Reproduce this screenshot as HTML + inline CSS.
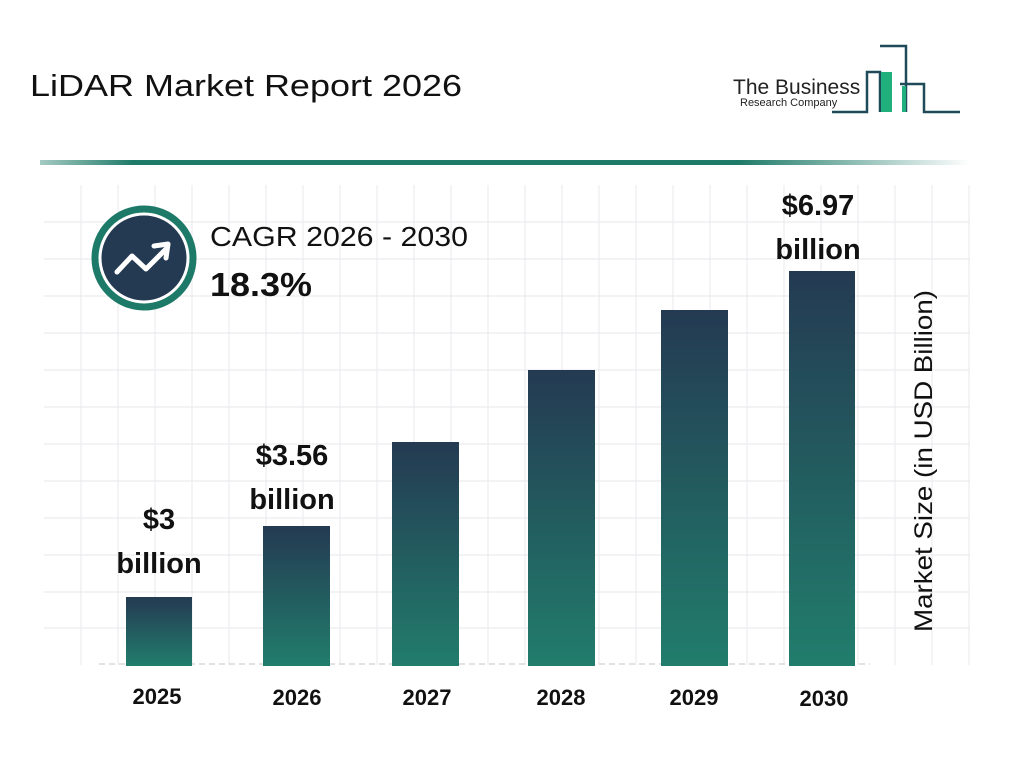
<!DOCTYPE html>
<html><head><meta charset="utf-8"><style>
body{margin:0;width:1024px;height:768px;background:#fff;overflow:hidden;font-family:"Liberation Sans",Arial,sans-serif}
</style></head><body>
<svg width="1024" height="768" viewBox="0 0 1024 768" xmlns="http://www.w3.org/2000/svg">
<defs>
<linearGradient id="bg" x1="0" y1="0" x2="0" y2="1"><stop offset="0" stop-color="#243a52"/><stop offset="1" stop-color="#217d6c"/></linearGradient>
<linearGradient id="hl" x1="0" y1="0" x2="1" y2="0"><stop offset="0" stop-color="#1e7a68" stop-opacity="0.4"/><stop offset="0.1" stop-color="#1e7a68"/><stop offset="0.75" stop-color="#1e7a68"/><stop offset="1" stop-color="#1e7a68" stop-opacity="0"/></linearGradient>
</defs>
<text x="30" y="96" font-size="31" fill="#111" textLength="432" lengthAdjust="spacingAndGlyphs">LiDAR Market Report 2026</text>
<g fill="none" stroke="#1e4a5a" stroke-width="2.5">
<polyline points="832,112 867,112 867,72 880,72 880,112"/>
<polyline points="880,46 906,46 906,112"/>
<polyline points="900,84 924,84 924,112 960,112"/>
</g>
<rect x="881" y="72" width="11" height="40" fill="#20b07e"/>
<rect x="902" y="86" width="4" height="26" fill="#20b07e"/>
<text x="733" y="94" font-size="21" fill="#222">The Business</text>
<text x="740" y="106" font-size="11" fill="#222">Research Company</text>
<rect x="40" y="160" width="930" height="5" fill="url(#hl)"/>
<g stroke="#ececef" stroke-width="1.2">
<line x1="44" y1="222" x2="970" y2="222"/><line x1="44" y1="259" x2="970" y2="259"/><line x1="44" y1="296" x2="970" y2="296"/><line x1="44" y1="333" x2="970" y2="333"/><line x1="44" y1="370" x2="970" y2="370"/><line x1="44" y1="407" x2="970" y2="407"/><line x1="44" y1="444" x2="970" y2="444"/><line x1="44" y1="481" x2="970" y2="481"/><line x1="44" y1="518" x2="970" y2="518"/><line x1="44" y1="555" x2="970" y2="555"/><line x1="44" y1="592" x2="970" y2="592"/><line x1="44" y1="628" x2="970" y2="628"/>
<line x1="81" y1="185" x2="81" y2="665"/><line x1="118" y1="185" x2="118" y2="665"/><line x1="155" y1="185" x2="155" y2="665"/><line x1="192" y1="185" x2="192" y2="665"/><line x1="229" y1="185" x2="229" y2="665"/><line x1="266" y1="185" x2="266" y2="665"/><line x1="303" y1="185" x2="303" y2="665"/><line x1="340" y1="185" x2="340" y2="665"/><line x1="377" y1="185" x2="377" y2="665"/><line x1="414" y1="185" x2="414" y2="665"/><line x1="451" y1="185" x2="451" y2="665"/><line x1="488" y1="185" x2="488" y2="665"/><line x1="525" y1="185" x2="525" y2="665"/><line x1="562" y1="185" x2="562" y2="665"/><line x1="599" y1="185" x2="599" y2="665"/><line x1="636" y1="185" x2="636" y2="665"/><line x1="673" y1="185" x2="673" y2="665"/><line x1="710" y1="185" x2="710" y2="665"/><line x1="747" y1="185" x2="747" y2="665"/><line x1="784" y1="185" x2="784" y2="665"/><line x1="821" y1="185" x2="821" y2="665"/><line x1="858" y1="185" x2="858" y2="665"/><line x1="895" y1="185" x2="895" y2="665"/><line x1="932" y1="185" x2="932" y2="665"/><line x1="969" y1="185" x2="969" y2="665"/>
</g>
<line x1="99" y1="664" x2="870" y2="664" stroke="#d8d8dc" stroke-width="1.5" stroke-dasharray="6,4"/>
<rect x="126" y="597" width="66" height="69" fill="url(#bg)"/>
<rect x="263" y="526" width="67" height="140" fill="url(#bg)"/>
<rect x="392" y="442" width="67" height="224" fill="url(#bg)"/>
<rect x="528" y="370" width="67" height="296" fill="url(#bg)"/>
<rect x="661" y="310" width="67" height="356" fill="url(#bg)"/>
<rect x="789" y="271" width="66" height="395" fill="url(#bg)"/>
<g font-weight="bold" font-size="29" fill="#111" text-anchor="middle">
<text x="159" y="529">$3</text><text x="159" y="573">billion</text>
<text x="292" y="465">$3.56</text><text x="292" y="509">billion</text>
<text x="818" y="215">$6.97</text><text x="818" y="259">billion</text>
</g>
<g font-weight="bold" font-size="22" fill="#111" text-anchor="middle">
<text x="157" y="704">2025</text><text x="297" y="705">2026</text><text x="427" y="705">2027</text><text x="561" y="705">2028</text><text x="694" y="705">2029</text><text x="824" y="706">2030</text>
</g>
<text transform="translate(932,461) rotate(-90)" font-size="25" fill="#111" text-anchor="middle" textLength="342" lengthAdjust="spacingAndGlyphs">Market Size (in USD Billion)</text>
<circle cx="144" cy="258" r="48" fill="#243a52" stroke="#1e7a68" stroke-width="9"/>
<circle cx="144" cy="258" r="44" fill="none" stroke="#fff" stroke-width="3"/>
<polyline points="117,272 132,256 146,269 166,249" fill="none" stroke="#fff" stroke-width="5" stroke-linecap="round" stroke-linejoin="round"/>
<polyline points="154,246 168,244 166,258" fill="none" stroke="#fff" stroke-width="5" stroke-linecap="round" stroke-linejoin="round"/>
<text x="210" y="246" font-size="28" fill="#111" textLength="258" lengthAdjust="spacingAndGlyphs">CAGR 2026 - 2030</text>
<text x="210" y="296" font-size="33" font-weight="bold" fill="#111" textLength="102" lengthAdjust="spacingAndGlyphs">18.3%</text>
</svg>
</body></html>
